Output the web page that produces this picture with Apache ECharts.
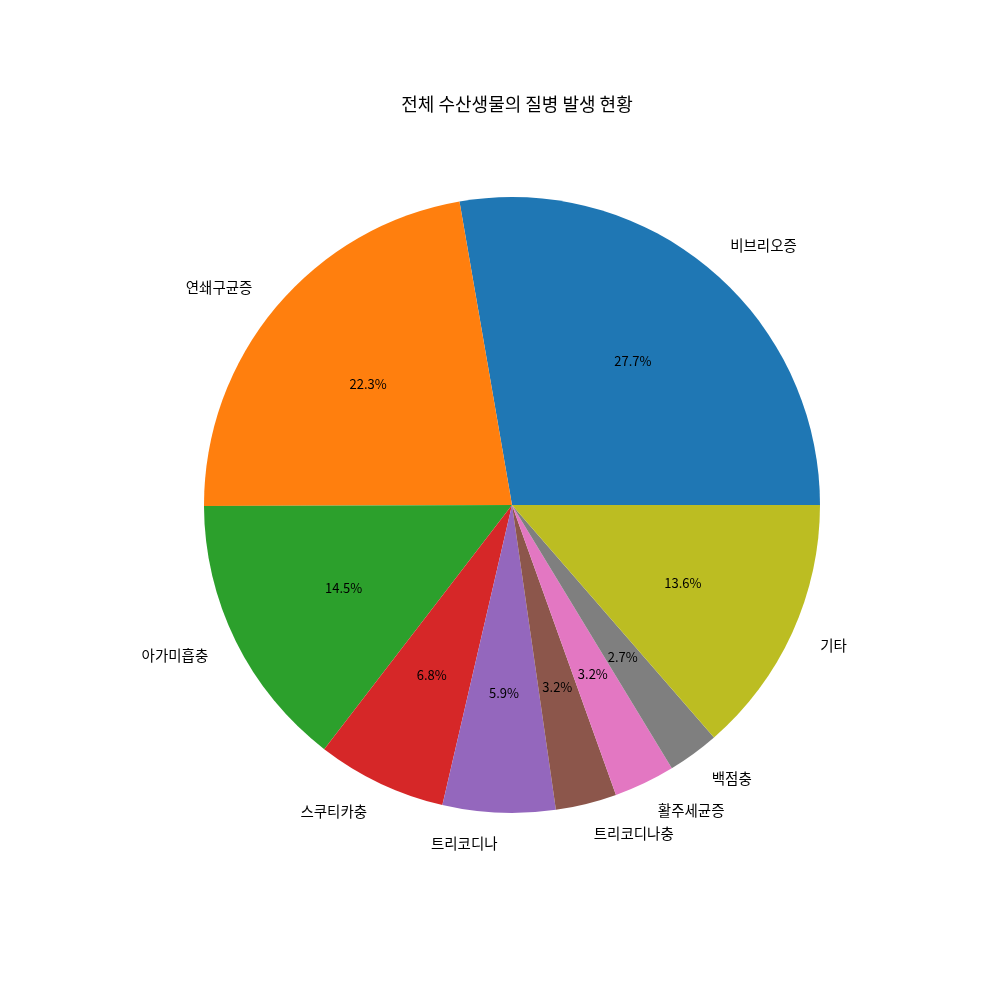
<!DOCTYPE html>
<html><head><meta charset="utf-8">
<script src="https://cdn.jsdelivr.net/npm/echarts@6/dist/echarts.min.js"></script>
<style>html,body{margin:0;padding:0;background:#fff}#c{width:1000px;height:1000px}</style>
</head><body><div id="c"></div>
<script>
const categories = ['비브리오증','연쇄구균증','아가미흡충','스쿠티카충','트리코디나','트리코디나충','활주세균증','백점충','기타'];
const values = [27.7, 22.3, 14.5, 6.8, 5.9, 3.2, 3.2, 2.7, 13.6];
const colors = ['#1f77b4','#ff7f0e','#2ca02c','#d62728','#9467bd','#8c564b','#e377c2','#7f7f7f','#bcbd22'];
const title = '전체 수산생물의 질병 발생 현황';

const FONT = '"Noto Sans CJK KR", "Noto Sans", sans-serif';
const R = 308;
const chart = echarts.init(document.getElementById('c'), null, {renderer:'canvas'});
const data = categories.map((n,i)=>({name:n, value:values[i], itemStyle:{color:colors[i]}}));
chart.setOption({
  animation:false,
  title:{text:title, left:512, textAlign:'center', top:90, textStyle:{fontFamily:FONT, fontSize:18, fontWeight:'normal', color:'#000'}},
  series:[
    {type:'pie', center:[512,505], radius:[0,R], startAngle:0, clockwise:false,
     avoidLabelOverlap:false, silent:true,
     data:data,
     itemStyle:{borderWidth:0},
     label:{show:true, position:'outside', fontFamily:FONT, fontSize:14.5, color:'#000', formatter:'{b}', alignTo:'none', distanceToLabelLine:0, padding:[0,0,4,0]},
     labelLine:{show:false, length:R*0.1, length2:0},
     emphasis:{disabled:true}
    },
    {type:'pie', center:[512,505], radius:[R*0.2,R], startAngle:0, clockwise:false,
     avoidLabelOverlap:false, silent:true,
     data:categories.map((n,i)=>({name:n, value:values[i], itemStyle:{color:'rgba(0,0,0,0)'}})),
     itemStyle:{borderWidth:0},
     label:{show:true, position:'inner', fontFamily:FONT, fontSize:13, color:'#000', formatter:p=>p.value.toFixed(1)+'%', padding:[0,0,3,0]},
     labelLine:{show:false},
     emphasis:{disabled:true}
    }
  ]
});
</script></body></html>
